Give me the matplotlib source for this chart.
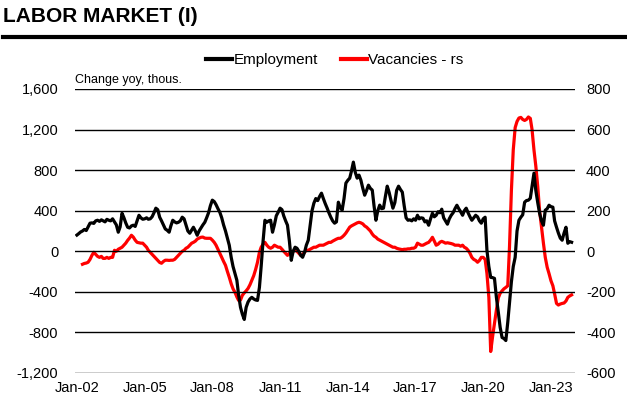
import matplotlib
matplotlib.use("Agg")
import matplotlib.pyplot as plt
import matplotlib.dates as mdates
from matplotlib.lines import Line2D
import numpy as np
import pandas as pd

plt.rcParams['font.family'] = ['Liberation Sans', 'DejaVu Sans']

# monthly, Jan-02 .. Dec-23
dates = pd.date_range('2002-01-01', periods=264, freq='MS')

employment = [
    160, 175, 190, 200, 215, 205, 240, 277, 280, 275, 300, 306,      # 2002
    295, 310, 300, 290, 315, 306, 300, 320, 290, 260, 188, 240,      # 2003
    375, 330, 280, 237, 230, 250, 257, 245, 300, 355, 330, 316,      # 2004
    320, 330, 316, 320, 340, 380, 425, 410, 336, 300, 260, 220,      # 2005
    207, 188, 250, 306, 290, 280, 286, 300, 336, 320, 260, 200,      # 2006
    178, 210, 237, 200, 158, 200, 230, 260, 286, 330, 380, 450,      # 2007
    504, 490, 460, 420, 385, 330, 260, 200, 128, 60, -59, -150,      # 2008
    -220, -286, -430, -553, -620, -672, -553, -500, -470, -454, -470, -480,  # 2009
    -484, -356, -150, 100, 306, 286, 300, 306, 188, 260, 350, 385,   # 2010
    425, 410, 350, 300, 257, 100, -89, 0, 40, 30, 0, -40,            # 2011
    -59, -10, 60, 109, 250, 400, 474, 520, 500, 540, 573, 520,       # 2012
    470, 425, 380, 336, 300, 277, 290, 484, 430, 405, 520, 672,      # 2013
    700, 721, 790, 879, 780, 721, 751, 700, 620, 553, 600, 652,      # 2014
    620, 603, 450, 306, 400, 455, 420, 425, 540, 642, 580, 500,      # 2015
    425, 480, 600, 642, 610, 583, 450, 330, 306, 310, 300, 320,      # 2016
    306, 355, 320, 330, 326, 290, 300, 257, 320, 375, 340, 355,      # 2017
    390, 380, 415, 330, 300, 267, 320, 355, 380, 420, 454, 420,      # 2018
    390, 355, 400, 425, 380, 340, 306, 330, 355, 340, 300, 277,      # 2019
    320, 336, 10, -150, -257, -260, -267, -454, -600, -750, -850, -860,  # 2020
    -880, -700, -514, -300, -150, -59, 200, 306, 336, 360, 484, 500,  # 2021
    504, 523, 640, 770, 600, 480, 375, 300, 257, 405, 420, 454,      # 2022
    440, 435, 300, 237, 180, 130, 109, 180, 237, 79, 95, 89,         # 2023
]

vacancies = [
    np.nan, np.nan, np.nan, -64, -60, -58, -54, -40, -20, -5, -15, -25,  # 2002
    -30, -25, -35, -35, -30, -35, -30, -30, 5, 0, 10, 15,            # 2003
    20, 30, 40, 54, 65, 79, 70, 55, 44, 42, 40, 40,                  # 2004
    30, 20, 5, -5, -15, -25, -35, -45, -55, -59, -50, -44,           # 2005
    -44, -45, -44, -44, -40, -30, -20, -10, 0, 5, 15, 20,            # 2006
    30, 40, 44, 50, 60, 65, 69, 70, 65, 64, 64, 64,                  # 2007
    55, 44, 30, 10, -10, -30, -50, -69, -100, -128, -160, -185,      # 2008
    -202, -225, -242, -240, -217, -205, -195, -183, -165, -143, -120, -90,  # 2009
    -54, -5, 20, 35, 44, 30, 20, 15, 20, 30, 25, 20,                 # 2010
    20, 10, 0, -10, -20, -10, -5, 0, 5, 0, -10, -20,                 # 2011
    -15, -5, 5, 5, 10, 15, 20, 20, 25, 30, 30, 30,                   # 2012
    35, 40, 44, 44, 50, 55, 60, 64, 64, 70, 79, 90,                  # 2013
    105, 119, 125, 130, 135, 140, 143, 140, 135, 125, 119, 110,      # 2014
    100, 85, 75, 69, 60, 55, 50, 45, 40, 35, 30, 25,                 # 2015
    20, 20, 15, 12, 10, 8, 10, 10, 12, 12, 15, 15,                   # 2016
    20, 40, 35, 30, 30, 35, 40, 44, 55, 69, 50, 30,                  # 2017
    35, 45, 49, 45, 40, 42, 40, 38, 35, 30, 30, 30,                  # 2018
    25, 30, 20, 15, 5, -10, -30, -40, -45, -54, -45, -30,            # 2019
    -30, -40, -109, -227, -494, -420, -356, -290, -230, -207, -195, -185,  # 2020
    -178, -170, 20, 300, 500, 610, 640, 657, 660, 650, 645, 650,     # 2021
    662, 655, 600, 500, 420, 320, 200, 119, 40, -30, -79, -110,      # 2022
    -145, -170, -210, -257, -265, -260, -257, -255, -245, -227, -220, -215,  # 2023
]

left_ticks = [-1200, -800, -400, 0, 400, 800, 1200, 1600]
right_ticks = [-600, -400, -200, 0, 200, 400, 600, 800]
x_ticks = pd.date_range('2002-01-01', '2023-01-01', freq='36MS')

fig = plt.figure(figsize=(6.27, 4.09), dpi=100)
ax = fig.add_axes([75/627, 1-373/409, 500/627, 284/409])
ax2 = ax.twinx()

for a in (ax, ax2):
    for s in a.spines.values():
        s.set_visible(False)
    a.tick_params(length=0, labelsize=10.5, colors='black')

ax.set_ylim(-1200, 1600)
ax.set_yticks(left_ticks)
ax.set_yticklabels([f'{v:,}' for v in left_ticks])
ax2.set_ylim(-600, 800)
ax2.set_yticks(right_ticks)
ax2.set_yticklabels([str(v) for v in right_ticks])
ax.tick_params(axis='y', pad=12)
ax2.tick_params(axis='y', pad=8)
ax.grid(axis='y', color='black', lw=1)
ax.set_axisbelow(True)

ax.plot(dates, employment, color='black', lw=2.3, zorder=3)
ax2.plot(dates, vacancies, color='#ff0000', lw=2.3, zorder=2)
ax.set_zorder(ax2.get_zorder() + 1)
ax.patch.set_visible(False)

ax.set_xlim(pd.Timestamp('2001-12-01'), pd.Timestamp('2024-01-25'))
ax.set_xticks(x_ticks)
ax.xaxis.set_major_formatter(mdates.DateFormatter('%b-%y'))
ax.tick_params(axis='x', pad=6)

ax.text(0.0, 1.01, 'Change yoy, thous.', transform=ax.transAxes, fontsize=9, va='bottom')

fig.text(0.005, 1-16/409, 'LABOR MARKET (I)', fontsize=15, fontweight='bold', va='center')
fig.add_artist(Line2D([0.005, 1.0], [1-37/409, 1-37/409], color='black', lw=3,
                      transform=fig.transFigure))

handles = [Line2D([], [], color='black', lw=3), Line2D([], [], color='#ff0000', lw=3)]
fig.legend(handles, ['Employment', 'Vacancies - rs'], loc='center', bbox_to_anchor=(0.534, 1-60/409),
           ncol=2, frameon=False, fontsize=11, handlelength=1.7, handletextpad=0.1,
           columnspacing=1.5)

fig.savefig('out.png', dpi=100)
